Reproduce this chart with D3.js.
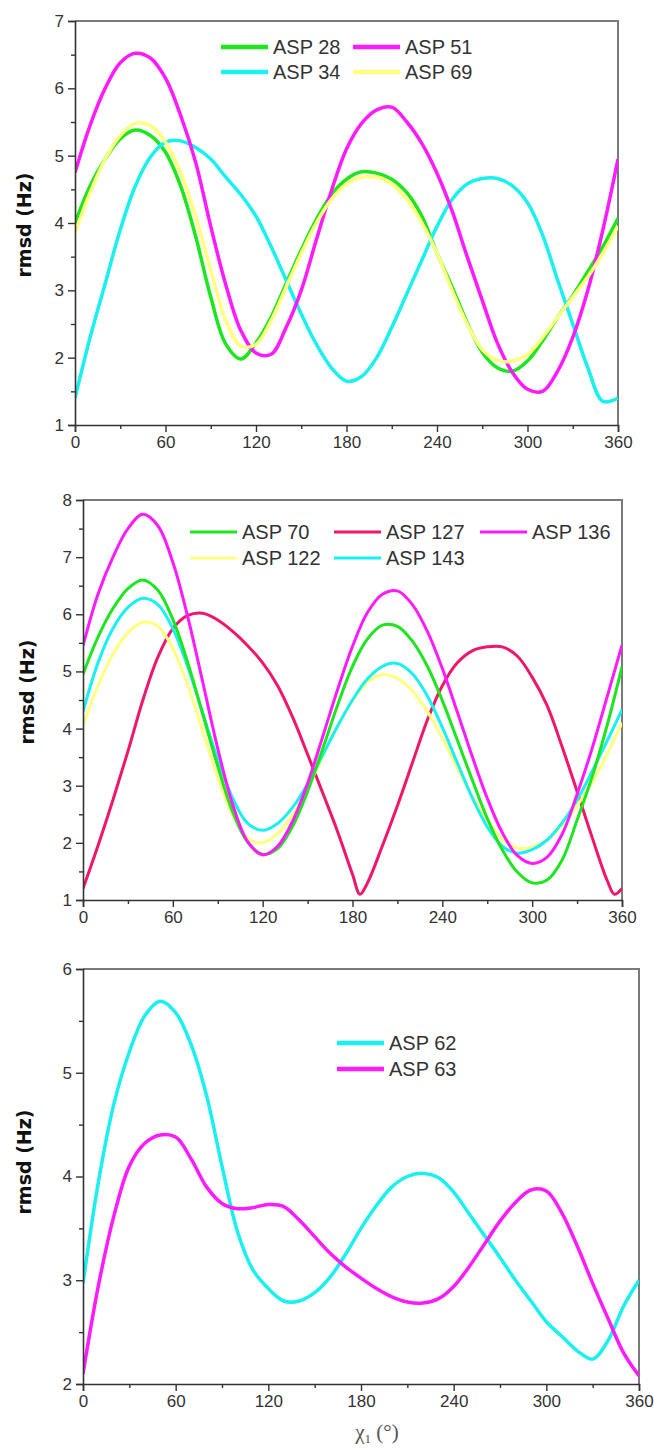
<!DOCTYPE html>
<html>
<head>
<meta charset="utf-8">
<script src="https://cdn.jsdelivr.net/npm/d3@7/dist/d3.min.js"></script>
<style>
  body { margin: 0; background: #fff; }
  svg text { font-family: "Liberation Sans", Arial, sans-serif; }
</style>
</head>
<body>
<svg id="chart" width="654" height="1450"></svg>
<script>
// chi1 angles (deg), shared by most series
var angles = [0, 10, 20, 30, 40, 50, 60, 70, 80, 90, 100, 110, 120, 130, 140, 150, 160, 170, 180,
              190, 200, 210, 220, 230, 240, 250, 260, 270, 280, 290, 300, 310, 320, 330, 340, 350, 360];
var xTicks = [0, 60, 120, 180, 240, 300, 360];

// panel 1
var asp28 = [4.0, 4.55, 4.95, 5.25, 5.38, 5.3, 5.05, 4.55, 3.8, 2.9, 2.2, 1.98, 2.22, 2.6, 3.1, 3.6, 4.05, 4.42, 4.65,
             4.76, 4.74, 4.65, 4.45, 4.1, 3.55, 3.05, 2.52, 2.08, 1.85, 1.8, 1.95, 2.25, 2.6, 2.92, 3.28, 3.65, 4.07];
var asp34 = [1.4, 2.3, 3.1, 3.9, 4.55, 4.98, 5.2, 5.22, 5.12, 4.95, 4.68, 4.42, 4.1, 3.65, 3.15, 2.65, 2.2, 1.85, 1.65,
             1.72, 2.0, 2.45, 2.95, 3.45, 3.95, 4.35, 4.58, 4.66, 4.66, 4.55, 4.3, 3.82, 3.15, 2.5, 1.85, 1.35, 1.4];
var asp51 = [4.75, 5.45, 6.0, 6.38, 6.52, 6.45, 6.15, 5.6, 4.9, 3.95, 3.08, 2.4, 2.07, 2.05, 2.45, 3.0, 3.75, 4.48, 5.1,
             5.48, 5.68, 5.72, 5.5, 5.18, 4.74, 4.18, 3.5, 2.85, 2.22, 1.78, 1.53, 1.5, 1.8, 2.3, 3.0, 3.9, 4.95];
var asp69 = [3.85, 4.45, 4.95, 5.3, 5.48, 5.45, 5.2, 4.75, 4.1, 3.3, 2.55, 2.17, 2.2, 2.55, 3.05, 3.55, 4.0, 4.35, 4.58,
             4.68, 4.68, 4.58, 4.35, 4.0, 3.55, 3.0, 2.5, 2.12, 1.96, 1.95, 2.05, 2.3, 2.6, 2.9, 3.2, 3.55, 3.95];

// panel 2
var asp70 = [4.95, 5.6, 6.1, 6.45, 6.6, 6.42, 5.91, 5.15, 4.25, 3.34, 2.54, 2.01, 1.8, 1.9, 2.29, 2.9, 3.64, 4.41, 5.09,
             5.57, 5.81, 5.79, 5.53, 5.09, 4.49, 3.8, 3.1, 2.43, 1.88, 1.49, 1.3, 1.35, 1.7, 2.4, 3.15, 4.05, 5.08];
var asp122 = [4.05, 4.75, 5.3, 5.68, 5.86, 5.79, 5.4, 4.75, 3.95, 3.14, 2.48, 2.08, 2.0, 2.16, 2.49, 2.96, 3.5, 4.03, 4.49,
              4.81, 4.94, 4.88, 4.66, 4.3, 3.83, 3.31, 2.81, 2.39, 2.07, 1.91, 1.93, 2.05, 2.3, 2.65, 3.05, 3.55, 4.1];
var asp127Angles = [0, 10, 20, 30, 40, 50, 60, 70, 80, 90, 100, 110, 120, 130, 140, 150, 160, 170, 180, 185,
                    190, 200, 210, 220, 230, 240, 250, 260, 270, 280, 290, 300, 310, 320, 330, 340, 350, 355, 360];
var asp127 = [1.2, 1.95, 2.75, 3.6, 4.5, 5.25, 5.75, 5.98, 6.02, 5.9, 5.7, 5.45, 5.15, 4.75, 4.2, 3.55, 2.88, 2.2, 1.45, 1.1,
              1.3, 1.95, 2.65, 3.4, 4.15, 4.75, 5.15, 5.36, 5.43, 5.43, 5.27, 4.9, 4.4, 3.68, 2.9, 2.1, 1.35, 1.1, 1.2];
var asp136 = [5.45, 6.35, 7.0, 7.5, 7.75, 7.55, 6.91, 5.95, 4.81, 3.65, 2.67, 2.02, 1.79, 1.94, 2.38, 3.04, 3.85, 4.68, 5.44,
              6.03, 6.35, 6.41, 6.17, 5.7, 5.05, 4.29, 3.51, 2.78, 2.18, 1.78, 1.64, 1.75, 2.15, 2.85, 3.65, 4.55, 5.46];
var asp143 = [4.3, 5.15, 5.75, 6.12, 6.28, 6.17, 5.75, 5.08, 4.27, 3.46, 2.78, 2.34, 2.22, 2.34, 2.62, 3.03, 3.53, 4.04, 4.5,
              4.87, 5.09, 5.14, 4.96, 4.57, 4.02, 3.4, 2.79, 2.28, 1.94, 1.82, 1.88, 2.05, 2.35, 2.75, 3.25, 3.78, 4.33];

// panel 3
var asp62 = [2.97, 3.95, 4.7, 5.2, 5.55, 5.69, 5.58, 5.27, 4.78, 4.1, 3.47, 3.1, 2.92, 2.8, 2.8, 2.88, 3.03, 3.25, 3.5,
             3.72, 3.9, 4.0, 4.03, 3.99, 3.85, 3.64, 3.43, 3.22, 3.0, 2.8, 2.6, 2.46, 2.32, 2.24, 2.42, 2.75, 3.0];
var asp63 = [2.1, 2.95, 3.62, 4.1, 4.32, 4.4, 4.38, 4.17, 3.9, 3.74, 3.69, 3.7, 3.73, 3.71, 3.58, 3.42, 3.26, 3.13, 3.02,
             2.92, 2.84, 2.79, 2.78, 2.82, 2.94, 3.13, 3.35, 3.57, 3.75, 3.87, 3.86, 3.65, 3.33, 2.97, 2.63, 2.3, 2.08];

var green = "#1ee61e", magenta = "#ff1aff", cyan = "#1af0f0", yellow = "#ffff80", red = "#f0166a";

var panels = [
  {
    left: 75, right: 618, top: 21, bottom: 425, yDomain: [1, 7], yTicks: [1, 2, 3, 4, 5, 6, 7],
    lineWidth: 3.5, legendWidth: 4.5, titleY: 225, titleX: 24,
    series: [
      { name: "ASP 28", color: green, x: angles, y: asp28, lx: 221, ly: 47 },
      { name: "ASP 34", color: cyan, x: angles, y: asp34, lx: 221, ly: 72 },
      { name: "ASP 51", color: magenta, x: angles, y: asp51, lx: 353, ly: 47 },
      { name: "ASP 69", color: yellow, x: angles, y: asp69, lx: 353, ly: 72 }
    ]
  },
  {
    left: 83, right: 622, top: 500, bottom: 900, yDomain: [1, 8], yTicks: [1, 2, 3, 4, 5, 6, 7, 8],
    lineWidth: 3, legendWidth: 3, titleY: 692, titleX: 27,
    series: [
      { name: "ASP 127", color: red, x: asp127Angles, y: asp127, lx: 334, ly: 532 },
      { name: "ASP 122", color: yellow, x: angles, y: asp122, lx: 190, ly: 558 },
      { name: "ASP 143", color: cyan, x: angles, y: asp143, lx: 334, ly: 558 },
      { name: "ASP 70", color: green, x: angles, y: asp70, lx: 190, ly: 532 },
      { name: "ASP 136", color: magenta, x: angles, y: asp136, lx: 480, ly: 532 }
    ]
  },
  {
    left: 83, right: 639, top: 969, bottom: 1384, yDomain: [2, 6], yTicks: [2, 3, 4, 5, 6],
    lineWidth: 3.5, legendWidth: 4.5, titleY: 1162, titleX: 24,
    series: [
      { name: "ASP 62", color: cyan, x: angles, y: asp62, lx: 337, ly: 1043 },
      { name: "ASP 63", color: magenta, x: angles, y: asp63, lx: 337, ly: 1069 }
    ]
  }
];

var svg = d3.select("#chart");

panels.forEach(function (p, i) {
  var xScale = d3.scaleLinear().domain([0, 360]).range([p.left, p.right]);
  var yScale = d3.scaleLinear().domain(p.yDomain).range([p.bottom, p.top]);
  var g = svg.append("g");

  g.append("clipPath").attr("id", "clip" + i)
    .append("rect")
    .attr("x", p.left).attr("y", p.top)
    .attr("width", p.right - p.left).attr("height", p.bottom - p.top);

  // frame: top + right in grey
  g.append("path")
    .attr("d", "M" + p.left + "," + p.top + "H" + p.right + "V" + p.bottom)
    .attr("fill", "none").attr("stroke", "#7a7a7a").attr("stroke-width", 2);

  var line = d3.line()
    .x(function (d) { return xScale(d[0]); })
    .y(function (d) { return yScale(d[1]); })
    .curve(d3.curveCatmullRom.alpha(0.5));

  var lines = g.append("g").attr("clip-path", "url(#clip" + i + ")");
  p.series.forEach(function (s) {
    lines.append("path")
      .datum(d3.zip(s.x, s.y))
      .attr("d", line)
      .attr("fill", "none")
      .attr("stroke", s.color)
      .attr("stroke-width", p.lineWidth)
      .attr("stroke-linejoin", "round");
  });

  // minor ticks
  var xMinor = xTicks.slice(1).map(function (t) { return t - 30; });
  var yMinor = p.yTicks.slice(1).map(function (t) { return t - 0.5; });

  g.append("g")
    .attr("transform", "translate(0," + p.bottom + ")")
    .call(d3.axisBottom(xScale).tickValues(xTicks).tickSize(7).tickPadding(4).tickFormat(d3.format("d")));
  g.append("g")
    .attr("transform", "translate(0," + p.bottom + ")")
    .call(d3.axisBottom(xScale).tickValues(xMinor).tickSize(4).tickFormat(""))
    .call(function (a) { a.select(".domain").remove(); });

  g.append("g")
    .attr("transform", "translate(" + p.left + ",0)")
    .call(d3.axisLeft(yScale).tickValues(p.yTicks).tickSize(7).tickPadding(4).tickFormat(d3.format("d")));
  g.append("g")
    .attr("transform", "translate(" + p.left + ",0)")
    .call(d3.axisLeft(yScale).tickValues(yMinor).tickSize(4).tickFormat(""))
    .call(function (a) { a.select(".domain").remove(); });

  g.selectAll(".domain").attr("stroke", "#333").attr("stroke-width", 1.6);
  g.selectAll(".tick line").attr("stroke", "#333").attr("stroke-width", 1.4);
  g.selectAll(".tick text")
    .attr("fill", "#333")
    .style("font-family", "'Liberation Sans', Arial, sans-serif")
    .style("font-size", "17px");

  // y title
  g.append("text")
    .attr("transform", "translate(" + p.titleX + "," + p.titleY + ") rotate(-90)")
    .attr("text-anchor", "middle")
    .attr("dy", "0.35em")
    .style("font-family", "'DejaVu Sans', Verdana, sans-serif")
    .style("font-weight", "bold")
    .style("font-size", "19px")
    .attr("fill", "#111")
    .text("rmsd (Hz)");

  // legend
  var leg = g.append("g");
  p.series.forEach(function (s) {
    leg.append("line")
      .attr("x1", s.lx).attr("x2", s.lx + 47)
      .attr("y1", s.ly).attr("y2", s.ly)
      .attr("stroke", s.color).attr("stroke-width", p.legendWidth);
    leg.append("text")
      .attr("x", s.lx + 52).attr("y", s.ly)
      .attr("dy", "0.36em")
      .style("font-size", "20px")
      .attr("fill", "#333")
      .text(s.name);
  });
});

// x title, bottom panel only
var xt = svg.append("text")
  .attr("x", 377).attr("y", 1439)
  .attr("text-anchor", "middle")
  .style("font-family", "'Liberation Serif', 'Times New Roman', serif")
  .style("font-size", "21px")
  .attr("fill", "#555");
xt.append("tspan").text("χ");
xt.append("tspan").attr("dy", 4).style("font-size", "13px").text("1");
xt.append("tspan").attr("dy", -4).text(" (°)");
</script>
</body>
</html>
